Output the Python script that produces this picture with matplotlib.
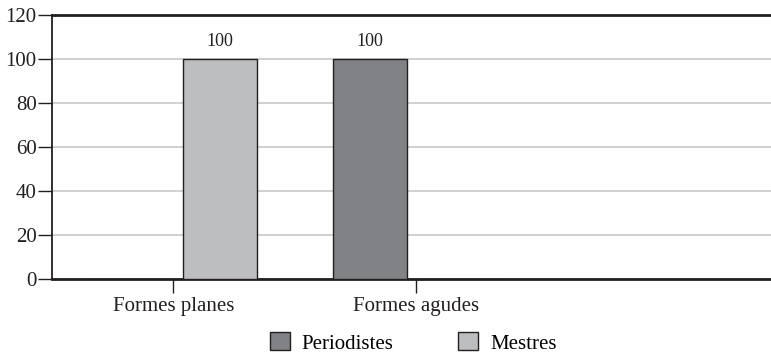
import matplotlib.pyplot as plt
import numpy as np

plt.rcParams['font.family'] = 'Liberation Serif'

categories = ['Formes planes', 'Formes agudes']
series_names = ['Periodistes', 'Mestres']
periodistes = [0, 100]
mestres = [100, 0]
colors = ['#808285', '#bcbec0']

x = np.arange(len(categories))
width = 0.305
offset = 0.19

fig = plt.figure(figsize=(7.71, 3.55), dpi=100)
ax = fig.add_axes([0.0674, 0.214, 0.9326, 0.744])

for vals, name, color, sign in zip([periodistes, mestres], series_names, colors, [-1, 1]):
    bars = ax.bar(x + sign * offset, vals, width, color=color, edgecolor='#231f20',
                  linewidth=1, label=name, zorder=3)
    for b, v in zip(bars, vals):
        if v > 0:
            ax.text(b.get_x() + b.get_width() / 2, v + 4, f'{v}', ha='center',
                    va='bottom', fontsize=13, color='#231f20')

ax.set_ylim(0, 120)
ax.set_yticks(range(0, 121, 20))
ax.set_xlim(-0.5, 2.46)
ax.set_xticks(x)
ax.set_xticklabels(categories)
ax.yaxis.grid(True, color='#c8c8c8', linewidth=1.2, zorder=0)
ax.set_axisbelow(True)

for side in ['top', 'bottom']:
    ax.spines[side].set_linewidth(2)
    ax.spines[side].set_color('#231f20')
ax.spines['left'].set_linewidth(1.3)
ax.spines['left'].set_color('#231f20')
ax.spines['right'].set_visible(False)

ax.tick_params(axis='both', direction='out', length=10, width=1, color='#231f20',
               labelsize=15, labelcolor='#231f20')
ax.tick_params(axis='y', pad=1)
ax.tick_params(axis='x', pad=3)

fig.legend(loc='center', bbox_to_anchor=(0.536, 0.034), ncol=2, frameon=False,
           fontsize=15, handlelength=0.96, handleheight=0.96, columnspacing=3.1,
           handletextpad=0.58, borderpad=0, borderaxespad=0)

fig.savefig('out.png', dpi=100)
